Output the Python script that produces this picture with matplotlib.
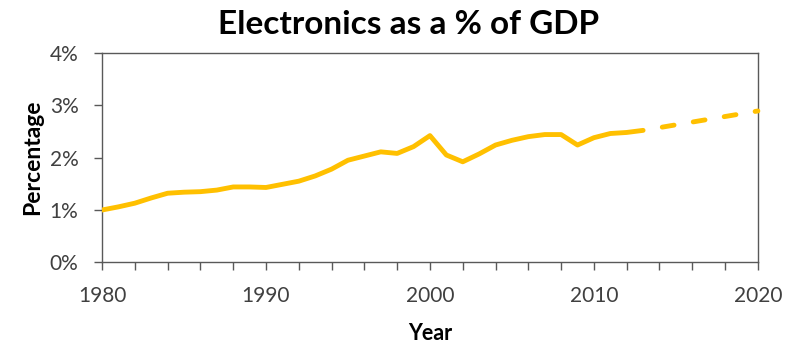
import matplotlib.pyplot as plt
from matplotlib.ticker import FuncFormatter, MultipleLocator

plt.rcParams["font.family"] = ["Lato", "DejaVu Sans"]
plt.rcParams["lines.scale_dashes"] = False

# share of GDP, in percent
years = list(range(1980, 2014))
share = [1.00, 1.06, 1.13, 1.23, 1.32, 1.34, 1.35, 1.38, 1.44, 1.44,
         1.43, 1.49, 1.55, 1.65, 1.78, 1.95, 2.03, 2.11, 2.08, 2.21,
         2.42, 2.05, 1.92, 2.07, 2.24, 2.33, 2.40, 2.44, 2.44, 2.24,
         2.38, 2.46, 2.48, 2.52]
proj_years = [2013, 2020]
proj_share = [2.52, 2.89]

GOLD = "#FFC000"
AXIS = "#595959"
TEXT = "#404040"
LW = 3.5

fig = plt.figure(figsize=(7.94, 3.43), dpi=100)
ax = fig.add_axes([0.1285, 0.235, 0.826, 0.611])

ax.plot(years, share, color=GOLD, linewidth=LW, solid_capstyle="round",
        solid_joinstyle="round", zorder=3)
# projection: starts with a gap right after the last observed year
ax.plot(proj_years, proj_share, color=GOLD, linewidth=LW,
        linestyle=(8.6, (8.6, 14.0)), dash_capstyle="round", zorder=3,
        clip_on=False)

ax.set_xlim(1980, 2020)
ax.set_ylim(0, 4)
ax.xaxis.set_major_locator(MultipleLocator(10))
ax.xaxis.set_minor_locator(MultipleLocator(2))
ax.yaxis.set_major_locator(MultipleLocator(1))
ax.yaxis.set_major_formatter(FuncFormatter(lambda v, _: f"{v:.0f}%"))

for side in ax.spines.values():
    side.set_color(AXIS)
    side.set_linewidth(1.0)

ax.tick_params(axis="both", which="both", direction="out", color=AXIS,
               width=1.0, labelcolor=TEXT, labelsize=15)
ax.tick_params(axis="x", which="major", length=6, pad=11)
ax.tick_params(axis="x", which="minor", length=6)
ax.tick_params(axis="y", length=6, pad=11)
ax.tick_params(top=False, right=False, which="both")

ax.set_xlabel("Year", fontsize=15.5, fontweight="bold", color="black", labelpad=12)
ax.set_ylabel("Percentage", fontsize=16.5, fontweight="bold", color="black", labelpad=5)
fig.text(0.514, 0.972, "Electronics as a % of GDP", fontsize=24,
         fontweight="bold", color="black", ha="center", va="top")

fig.savefig("out.png", dpi=100)
